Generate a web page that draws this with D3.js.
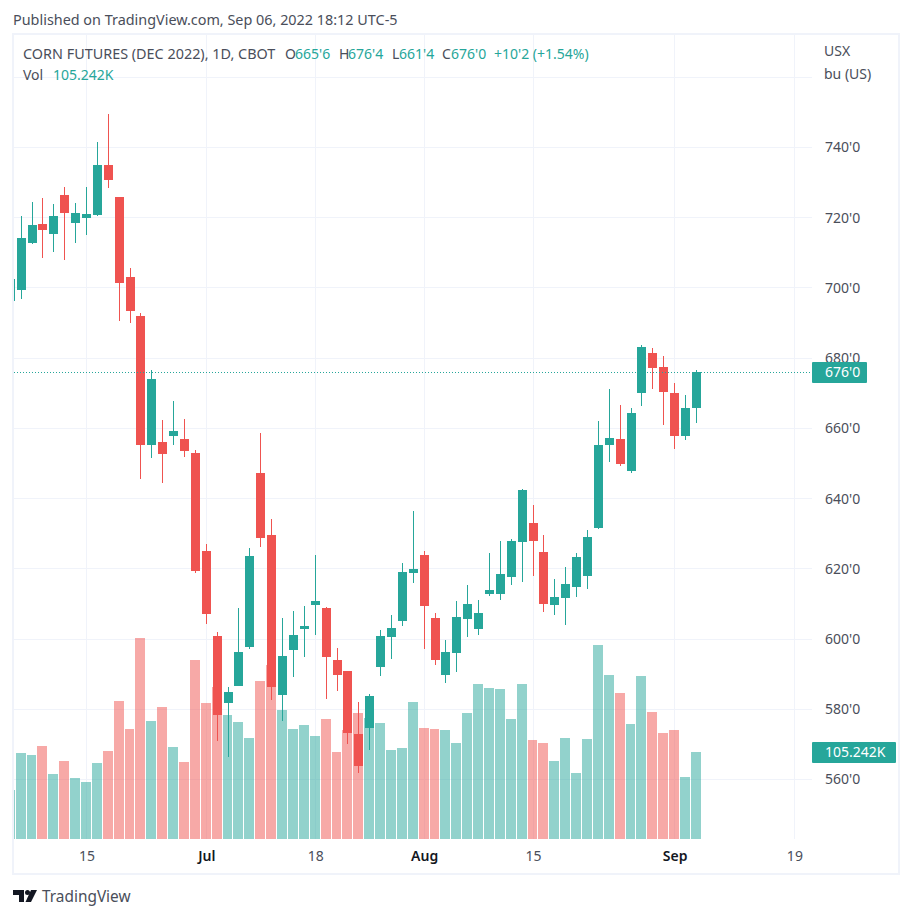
<!DOCTYPE html>
<html>
<head>
<meta charset="utf-8">
<script src="https://cdn.jsdelivr.net/npm/d3@7"></script>
<style>
    html, body { margin: 0; padding: 0; background: #fff; }
    svg { display: block; }
    text { font-family: "Noto Sans", sans-serif; font-size: 14px; }
</style>
</head>
<body>
<div id="chart"></div>
<script>
//daily candles, one entry per trading day (first one is cut off by the left edge)
var opens = [696.3,699.4,712.8,718.2,715.4,726.5,718.5,719.9,720.8,735,725.9,703.1,692,655.3,656.1,657.8,657,653,625.1,600.9,581.8,586.6,597.7,647.3,629.6,584.1,596.9,602.9,609.7,608.8,594,590.9,573,574.7,592,600.6,605.1,618.8,623.9,606,589.8,596,605.7,602.9,612.8,612.8,617.7,627.6,633.1,624.8,609.7,611.7,614.8,618,631.6,655.3,657,647.9,670.1,681.5,677.5,670.1,657.8,665.75];
var highs = [702.5,720.5,724.5,725.6,723.9,728.7,724.2,728.7,741.6,749.5,725.9,705.7,692.9,676.6,662.4,667.8,662.7,653.8,627.1,602,586.3,608.8,625.9,658.7,634.2,606,608,609.4,623.9,609.1,597.4,590.9,582.1,584.3,602.6,606.8,621.7,636.5,625.1,607.4,599.7,610.8,615.4,611.1,624.5,627.9,628.5,642.7,638.2,629.6,617.1,620.5,624.5,631.1,662.1,671.2,666.7,665.8,683.7,682.9,680.6,672.9,669.5,676.5];
var lows = [696.3,696.9,712.5,708.5,710.2,708,712.8,715.1,720.5,728.5,690.6,690,645.6,651.6,644.4,655.3,651.8,618.8,604.3,571,566.4,586.6,597.2,626.2,582.6,576.7,589.2,594.9,601.2,582.9,585.2,570.1,561.8,568.4,589.5,594.3,603.7,616,597.2,592.6,587.5,590.6,600.6,601.2,612.3,611.1,615.4,616.2,618,607.7,606.8,604,612,614.3,631.3,650.4,649.3,647.3,666.4,671.2,661,654.1,656.7,661.5];
var closes = [702.5,714.2,717.9,716.5,720.5,721.3,721.3,721.1,735,730.7,701.4,693.4,655.3,674.1,652.7,659.3,653.6,619.4,607.1,578.4,584.9,596.3,623.7,628.8,586.3,595.2,601.2,603.7,610.8,594.9,589.8,573.2,563.8,583.8,600.9,603.1,619.1,620,609.4,594,596.3,606.3,610,607.4,614,618.5,627.9,642.4,627.9,610,612,615.7,623.4,629.1,655.3,657.3,649.9,664.4,683.2,677.2,670.4,657.8,665.8,676];
//volume in thousands
var volumes = [59.3,104,101.6,112.5,78.6,94.4,73.8,69,91.9,106.5,166.9,133.1,243.2,142.7,159.7,111.3,93.1,216.5,164.5,183.9,150,141.5,122.2,191.1,210.5,156,133.1,137.9,124.6,145.2,105.2,131.9,152.4,146.4,140.3,107.7,110.1,165.7,134.3,133.1,131.9,116.1,152.4,187.5,182.7,181.5,145.2,187.5,119.8,116.1,94.4,122.2,79.8,121,234.7,198.4,176.6,139.1,197.2,153.6,128.2,131.9,75,105.242];

//axis ticks
var priceTicks = [740,720,700,680,660,640,620,600,580,560];
var gridPrices = [760,740,720,700,680,660,640,620,600,580,560];
var dateTickIndex = [7,18,28,38,48,61,72];
var dateTickLabels = ["15","Jul","18","Aug","15","Sep","19"];
var monthLabels = ["Jul","Aug","Sep"];

var lastPrice = 676;
var lastVolume = 105.242;

var green = "#26a69a";
var red = "#ef5350";
var textColor = "#4a4e5a";
var gridColor = "#f0f3fa";

var paneLeft = 14, paneRight = 812, paneTop = 35, paneBottom = 839;

var svg = d3.select("#chart").append("svg")
    .attr("width", 912)
    .attr("height", 918);

//scales
var x = d3.scaleLinear().domain([0, 72]).range([10.305, 10.305 + 72 * 10.89]);
var y = d3.scaleLinear().domain([740, 560]).range([147.5, 779.5]);
var vol = d3.scaleLinear().domain([0, lastVolume]).range([paneBottom, 752]);

function px(i){
    return Math.floor(x(i));
}

svg.append("defs").append("clipPath").attr("id", "pane")
    .append("rect")
    .attr("x", paneLeft)
    .attr("y", paneTop)
    .attr("width", paneRight - paneLeft)
    .attr("height", paneBottom - paneTop);

//frame
svg.append("rect")
    .attr("x", 13)
    .attr("y", 34)
    .attr("width", 886)
    .attr("height", 840)
    .attr("fill", "none")
    .attr("stroke", gridColor)
    .attr("stroke-width", 2);

//grid lines
svg.append("g").selectAll("line").data(gridPrices).join("line")
    .attr("x1", paneLeft)
    .attr("x2", paneRight)
    .attr("y1", d => Math.floor(y(d)) + 0.5)
    .attr("y2", d => Math.floor(y(d)) + 0.5)
    .attr("stroke", gridColor);

svg.append("g").selectAll("line").data(dateTickIndex).join("line")
    .attr("x1", d => px(d) + 0.5)
    .attr("x2", d => px(d) + 0.5)
    .attr("y1", paneTop)
    .attr("y2", paneBottom)
    .attr("stroke", gridColor);

var plot = svg.append("g").attr("clip-path", "url(#pane)");

var days = d3.range(opens.length);

function dayColor(i){
    return closes[i] >= opens[i] ? green : red;
}

//volume bars
plot.append("g").attr("shape-rendering", "crispEdges").selectAll("rect").data(days).join("rect")
    .attr("x", d => px(d) - 5)
    .attr("width", d => px(d + 1) - px(d) - 1)
    .attr("y", d => Math.round(vol(volumes[d])))
    .attr("height", d => paneBottom - Math.round(vol(volumes[d])))
    .attr("fill", d => dayColor(d))
    .attr("fill-opacity", 0.5);

//last price line
svg.append("line")
    .attr("x1", paneLeft)
    .attr("x2", paneRight)
    .attr("y1", Math.floor(y(lastPrice)) + 0.5)
    .attr("y2", Math.floor(y(lastPrice)) + 0.5)
    .attr("stroke", green)
    .attr("stroke-dasharray", "1 2");

//wicks
plot.append("g").attr("shape-rendering", "crispEdges").selectAll("rect").data(days).join("rect")
    .attr("x", d => px(d))
    .attr("width", 1)
    .attr("y", d => Math.round(y(highs[d])))
    .attr("height", d => Math.round(y(lows[d])) - Math.round(y(highs[d])))
    .attr("fill", d => dayColor(d));

//bodies
plot.append("g").attr("shape-rendering", "crispEdges").selectAll("rect").data(days).join("rect")
    .attr("x", d => px(d) - 4)
    .attr("width", 9)
    .attr("y", d => Math.round(y(Math.max(opens[d], closes[d]))))
    .attr("height", d => Math.max(1, Math.round(y(Math.min(opens[d], closes[d]))) - Math.round(y(Math.max(opens[d], closes[d])))))
    .attr("fill", d => dayColor(d));

//price axis
var priceAxis = d3.axisRight(y)
    .tickValues(priceTicks)
    .tickSize(0)
    .tickPadding(13)
    .tickFormat(d => d + "'0");

var priceG = svg.append("g")
    .attr("transform", "translate(" + paneRight + ",0)")
    .call(priceAxis);
priceG.select(".domain").remove();
priceG.selectAll("text")
    .attr("fill", textColor)
    .style("font-family", '"Noto Sans", sans-serif')
    .style("font-size", "14px");

//date axis
var dateAxis = d3.axisBottom(x)
    .tickValues(dateTickIndex)
    .tickSize(0)
    .tickPadding(12)
    .tickFormat((d, i) => dateTickLabels[i]);

var dateG = svg.append("g")
    .attr("transform", "translate(0," + paneBottom + ")")
    .call(dateAxis);
dateG.select(".domain").remove();
dateG.selectAll("text")
    .attr("fill", (d, i) => monthLabels.includes(dateTickLabels[i]) ? "#131722" : textColor)
    .style("font-family", '"Noto Sans", sans-serif')
    .style("font-size", "14px")
    .style("font-weight", (d, i) => monthLabels.includes(dateTickLabels[i]) ? 600 : 400);

//unit labels top right
svg.append("text").attr("x", 824).attr("y", 56).attr("fill", textColor).text("USX");
svg.append("text").attr("x", 824).attr("y", 79).attr("fill", textColor).text("bu (US)");

//last value tags
svg.append("rect").attr("x", 812).attr("y", 362).attr("width", 55).attr("height", 21).attr("rx", 1).attr("fill", green);
svg.append("text").attr("x", 825).attr("y", 377).attr("fill", "#fff").text("676'0");

svg.append("rect").attr("x", 812).attr("y", 742).attr("width", 84).attr("height", 21).attr("rx", 1).attr("fill", green);
svg.append("text").attr("x", 825).attr("y", 757).attr("fill", "#fff").text("105.242K");

//header text
svg.append("text").attr("x", 13).attr("y", 25).attr("fill", textColor)
    .style("font-size", "14.4px")
    .text("Published on TradingView.com, Sep 06, 2022 18:12 UTC-5");

svg.append("text").attr("x", 23).attr("y", 59).attr("fill", textColor)
    .style("font-size", "14.4px")
    .text("CORN FUTURES (DEC 2022), 1D, CBOT");

var ohlcLabels = ["O", "H", "L", "C"];
var ohlcValues = ["665'6", "676'4", "661'4", "676'0"];
var ohlcLabelX = [285, 339, 392, 442];
var ohlcValueX = [295, 348, 399, 451];

ohlcLabels.forEach(function(label, i){
    svg.append("text").attr("x", ohlcLabelX[i]).attr("y", 59).attr("fill", textColor).text(label);
    svg.append("text").attr("x", ohlcValueX[i]).attr("y", 59).attr("fill", green).text(ohlcValues[i]);
});

svg.append("text").attr("x", 494).attr("y", 59).attr("fill", green).text("+10'2 (+1.54%)");

svg.append("text").attr("x", 23).attr("y", 80).attr("fill", textColor).text("Vol");
svg.append("text").attr("x", 53).attr("y", 80).attr("fill", green).text("105.242K");

//logo
var logo = svg.append("g").attr("fill", "#131722");
logo.append("path").attr("d", "M13 890H24V902H19V895H13Z");
logo.append("circle").attr("cx", 27.5).attr("cy", 892.5).attr("r", 2.5);
logo.append("path").attr("d", "M31 890H37L31 902H25.5Z");
svg.append("text").attr("x", 42).attr("y", 902).attr("fill", "#4a4e5a")
    .style("font-size", "15.4px")
    .text("TradingView");
</script>
</body>
</html>
